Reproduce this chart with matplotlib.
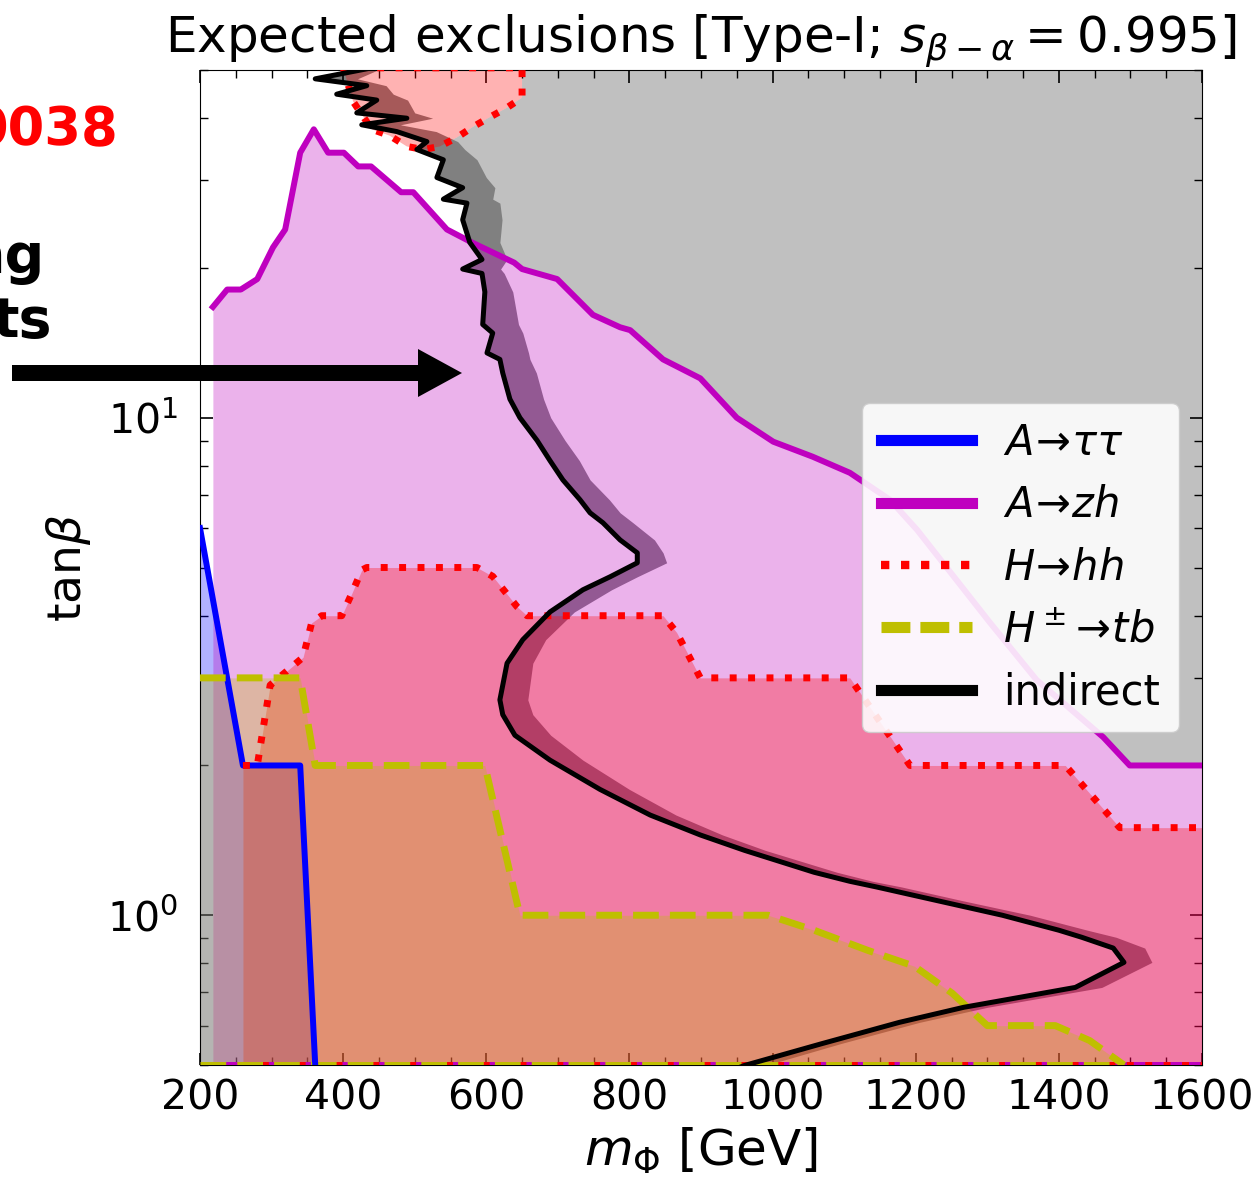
import matplotlib
matplotlib.use('Agg')
import matplotlib.pyplot as plt
from matplotlib.lines import Line2D
from matplotlib.patches import FancyArrow
from matplotlib.ticker import MultipleLocator
import numpy as np

# A -> tau tau
tautau_m = [200, 260, 340, 361]
tautau_t = [6.0, 2.0, 2.0, 0.5]

# A -> zh
azh_m = [218, 238, 257, 280, 302, 319, 340, 359, 379, 401, 421, 439, 481, 498, 545, 580,
         639, 650, 699, 749, 787, 801, 847, 899, 950, 1001, 1056, 1108, 1164, 1202, 1304,
         1369, 1462, 1499, 1600]
azh_t = [16.7, 18.1, 18.1, 19.0, 22.0, 23.9, 34.1, 38.0, 34.1, 34.1, 32.0, 32.0, 28.4, 28.4,
         23.9, 22.5, 20.5, 19.9, 19.0, 16.1, 15.2, 15.0, 13.1, 12.0, 10.0, 8.95, 8.35, 7.75,
         6.84, 5.95, 3.87, 2.97, 2.28, 2.0, 2.0]

# H -> hh (main region)
hh_m = [260, 280, 298, 344, 356, 370, 398, 412, 426, 433, 587, 609, 643, 657, 847, 866,
        899, 1108, 1192, 1409, 1485, 1600]
hh_t = [2.0, 2.0, 2.9, 3.3, 3.87, 4.0, 4.0, 4.43, 4.94, 5.0, 5.0, 4.8, 4.17, 4.0, 4.0, 3.7,
        3.0, 3.0, 2.0, 2.0, 1.5, 1.5]

# H -> hh (island at large tan beta)
island_m = [400, 414, 440, 465, 489, 512, 535, 559, 581, 605, 629, 650, 650, 400]
island_t = [50.5, 43.2, 38.0, 36.9, 35.1, 34.6, 35.1, 36.6, 38.4, 40.2, 42.0, 44.0, 50.5, 50.5]

# H+- -> tb
tb_m = [200, 340, 361, 598, 647, 994, 1058, 1133, 1198, 1251, 1300, 1395, 1443, 1491]
tb_t = [3.0, 3.0, 2.0, 2.0, 1.0, 1.0, 0.933, 0.85, 0.79, 0.697, 0.60, 0.60, 0.56, 0.5]

# indirect constraints (line and right edge of its band)
ind_t = [50.5, 48.0, 46.5, 44.7, 43.5, 41.0, 40.0, 38.8, 37.6, 35.9, 34.6, 33.0, 30.4, 29.0,
         27.5, 27.0, 25.0, 22.5, 20.8, 19.9, 19.5, 17.9, 15.4, 14.8, 13.5, 13.1, 12.3, 10.9,
         10.0, 9.0, 8.2, 7.5, 6.84, 6.44, 6.15, 5.68, 5.35, 5.11, 4.79, 4.51, 4.07, 3.58,
         3.21, 2.71, 2.53, 2.30, 2.05, 1.79, 1.59, 1.45, 1.35, 1.22, 1.17, 1.14, 1.07, 1.00,
         0.933, 0.903, 0.859, 0.804, 0.716, 0.653, 0.609, 0.552, 0.499, 0.48]
ind_m = [440, 361, 433, 391, 447, 419, 489, 426, 475, 517, 503, 540, 531, 567,
         540, 573, 567, 577, 594, 567, 594, 598, 595, 609, 601, 619, 623, 633,
         647, 671, 689, 707, 731, 745, 763, 787, 811, 811, 773, 735, 689, 651,
         629, 619, 623, 640, 689, 759, 829, 899, 961, 1058, 1108, 1145, 1230, 1321,
         1400, 1432, 1476, 1491, 1423, 1267, 1177, 1069, 961, 930]
band_m = [455, 420, 460, 470, 490, 500, 525, 480, 530, 560, 570, 587, 600, 612,
          609, 619, 622, 619, 629, 620, 625, 637, 645, 651, 659, 661, 670, 680,
          690, 710, 730, 745, 772, 787, 805, 835, 847, 852, 811, 775, 723, 683,
          665, 658, 665, 690, 735, 800, 865, 930, 990, 1090, 1140, 1180, 1265, 1360,
          1440, 1480, 1520, 1530, 1460, 1300, 1205, 1095, 990, 960]

# edge of the grey area between the A->zh line and the H->hh island
grey_edge_m = [577, 567, 573, 540, 567, 531, 540, 535]
grey_edge_t = [22.5, 25.0, 27.0, 27.5, 29.0, 30.4, 33.0, 35.1]

fig = plt.figure(figsize=(12.59, 11.82), dpi=100)
ax = fig.add_axes([200/1259, 1-1065/1182, 1002/1259, 995/1182])
ax.set_yscale('log')

pm = np.array(azh_m)
pt = np.array(azh_t)
sel = pm >= 580
grey_x = np.concatenate([grey_edge_m, island_m[6:12], [650, 1600, 1600], pm[sel][::-1]])
grey_y = np.concatenate([grey_edge_t, island_t[6:12], [50.5, 50.5, 2.0], pt[sel][::-1]])
ax.fill(grey_x, grey_y, color='#c0c0c0', lw=0, zorder=1)
ax.fill_betweenx(ind_t, ind_m, band_m, color='#808080', lw=0, zorder=1.2)

a = 0.3
ax.fill_between(tautau_m, 0.4, tautau_t, color='b', alpha=a, lw=0, zorder=2)
ax.fill_between(azh_m, 0.4, azh_t, color='m', alpha=a, lw=0, zorder=2.1)
ax.fill_between(hh_m, 0.4, hh_t, color='r', alpha=a, lw=0, zorder=2.2)
ax.fill(island_m, island_t, color='r', alpha=a, lw=0, zorder=2.2)
ax.fill_between(tb_m, 0.4, tb_t, color='y', alpha=a, lw=0, zorder=2.3)

ax.plot([218, 1600], [0.5, 0.5], color='m', lw=4.3, zorder=3)
ax.plot([260, 1600], [0.5, 0.5], color='r', lw=5, ls=':', zorder=3)
ax.plot([200, 1491], [0.5, 0.5], color='y', lw=5, ls='--', zorder=3)

ax.plot(tautau_m, tautau_t, color='b', lw=4.3, zorder=4)
ax.plot(azh_m, azh_t, color='m', lw=4.3, zorder=4)
ax.plot(hh_m, hh_t, color='r', lw=5, ls=':', zorder=4)
ax.plot(island_m, island_t, color='r', lw=5, ls=':', zorder=4)
ax.plot(tb_m, tb_t, color='y', lw=5, ls='--', zorder=4)
ax.plot(ind_m, ind_t, color='k', lw=3.6, zorder=5)

ax.set_xlim(200, 1600)
ax.set_ylim(0.5, 50)
ax.set_xticks(range(200, 1601, 200))
ax.xaxis.set_minor_locator(MultipleLocator(50))
ax.tick_params(which='both', direction='in', top=True, right=True, labelsize=29.5)
ax.tick_params(which='major', length=9, width=1.2)
ax.tick_params(which='minor', length=5.5, width=1.0)
ax.tick_params(axis='x', pad=10)
ax.tick_params(axis='y', pad=16)

ax.set_title(r'Expected exclusions [Type-I; $s_{\beta-\alpha}=0.995$]', fontsize=36, pad=6)
ax.set_xlabel(r'$m_{\Phi}$ [GeV]', fontsize=36, labelpad=5)
ax.set_ylabel(r'tan$\beta$', fontsize=34, labelpad=10)

handles = [Line2D([], [], color='b', lw=8),
           Line2D([], [], color='m', lw=8),
           Line2D([], [], color='r', lw=6, ls=(0, (1, 1.4))),
           Line2D([], [], color='y', lw=8, ls=(0, (2.6, 0.9))),
           Line2D([], [], color='k', lw=8)]
labels = [r'$A\!\to\!\tau\tau$', r'$A\!\to\!zh$', r'$H\!\to\!hh$', r'$H^\pm\!\to\!tb$',
          'indirect']
leg = ax.legend(handles, labels, loc='center right', fontsize=30, handlelength=2.2,
                handletextpad=0.75, labelspacing=0.49, borderaxespad=0.55, borderpad=0.45,
                framealpha=0.88)
leg.set_zorder(10)

# slide annotations around the plot
fig.text(118/1259, 1-145/1182, '0038', color='red', fontsize=38, fontweight='bold',
         ha='right', va='baseline')
fig.text(45/1259, 1-273/1182, 'ng', color='black', fontsize=40, fontweight='bold',
         ha='right', va='baseline')
fig.text(52/1259, 1-337/1182, 'ts', color='black', fontsize=40, fontweight='bold',
         ha='right', va='baseline')
fig.add_artist(FancyArrow(12/1259, 1-373/1182, 450/1259, 0, width=16/1182,
                          head_width=48/1182, head_length=44/1259,
                          length_includes_head=True, color='black', lw=0,
                          transform=fig.transFigure, zorder=20))

fig.savefig('out.png', dpi=100)
